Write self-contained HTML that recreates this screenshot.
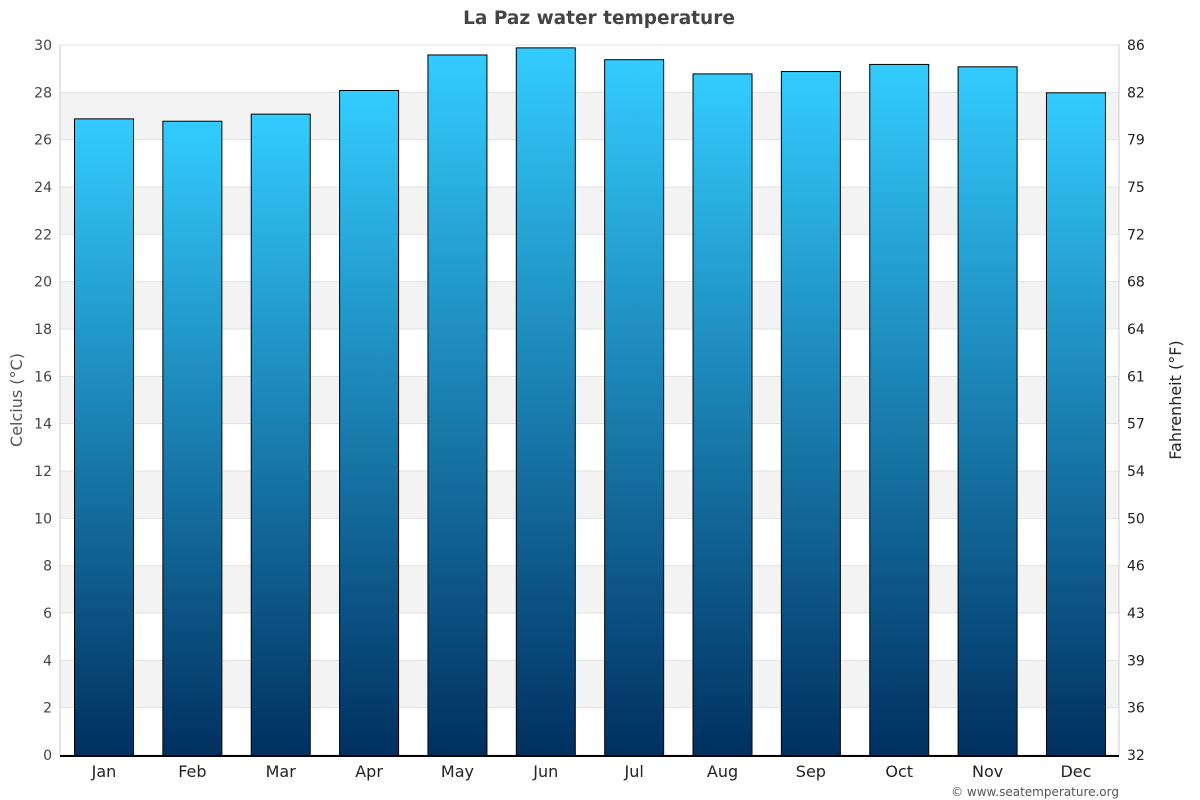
<!DOCTYPE html>
<html><head><meta charset="utf-8"><style>body{margin:0;background:#fff}svg{display:block;font-family:"DejaVu Sans","Liberation Sans",sans-serif}</style></head><body>
<svg width="1200" height="800" viewBox="0 0 1200 800">
<defs><linearGradient id="g" x1="0" y1="0" x2="0" y2="1"><stop offset="0" stop-color="#33ccff"/><stop offset="1" stop-color="#003060"/></linearGradient></defs>
<rect width="1200" height="800" fill="#fff"/>
<g id="bands"></g>
<text x="599" y="24" text-anchor="middle" font-size="18.5" font-weight="bold" fill="#444">La Paz water temperature</text>
<g id="c"></g>
<text transform="translate(22,400) rotate(-90)" text-anchor="middle" font-size="16" fill="#555">Celcius (°C)</text>
<text transform="translate(1181,400) rotate(-90)" text-anchor="middle" font-size="16" fill="#222">Fahrenheit (°F)</text>
<text x="1119" y="796" text-anchor="end" font-size="12" fill="#555">© www.seatemperature.org</text>
</svg>
<script>
const ns="http://www.w3.org/2000/svg",c=document.getElementById('c'),b=document.getElementById('bands');
function el(p,t,a,txt){const e=document.createElementNS(ns,t);for(const k in a)e.setAttribute(k,a[k]);if(txt!=null)e.textContent=txt;p.appendChild(e);return e;}
const y=v=>755-v*710/30;
for(let v=2;v<30;v+=4)el(b,'rect',{x:60,y:y(v+2),width:1059,height:y(v)-y(v+2),fill:'#f3f3f3'});
for(let v=0;v<=30;v+=2){el(b,'line',{x1:60,x2:1119,y1:y(v),y2:y(v),stroke:'#e2e2e2'});
el(c,'text',{x:52,y:y(v)+5,'text-anchor':'end','font-size':14,fill:'#444'},v);}
const f=[32,36,39,43,46,50,54,57,61,64,68,72,75,79,82,86];
f.forEach((t,i)=>el(c,'text',{x:1127,y:y(i*2)+5,'font-size':14,fill:'#222'},t));
el(c,'line',{x1:60,x2:60,y1:45,y2:756,stroke:'#ccc'});
el(c,'line',{x1:1119,x2:1119,y1:45,y2:756,stroke:'#ccc'});
const m=['Jan','Feb','Mar','Apr','May','Jun','Jul','Aug','Sep','Oct','Nov','Dec'],d=[26.9,26.8,27.1,28.1,29.6,29.9,29.4,28.8,28.9,29.2,29.1,28.0];
const w=88.36;
d.forEach((v,i)=>{const x=74+w*i;el(c,'rect',{x:x+0.5,y:y(v)+0.5,width:59,height:755-y(v),fill:'url(#g)',stroke:'#000','stroke-width':1});
el(c,'text',{x:x+30,y:777,'text-anchor':'middle','font-size':16,fill:'#222'},m[i]);});
el(c,'line',{x1:60,x2:1119,y1:756,y2:756,stroke:'#000','stroke-width':2});
</script>
</body></html>
